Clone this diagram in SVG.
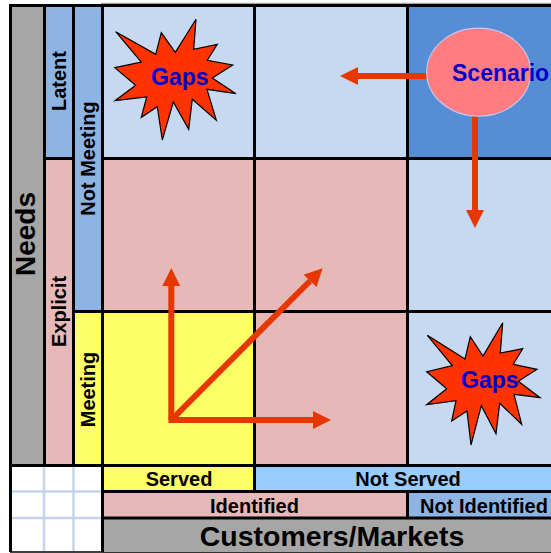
<svg xmlns="http://www.w3.org/2000/svg" width="551" height="553" viewBox="0 0 551 553">
<style>
text{font-family:"Liberation Sans",Arial,sans-serif;font-weight:bold;fill:#000;text-anchor:middle}
.lb{fill:#c6d9f0}.pk{fill:#e6b9b8}.ye{fill:#ffff66}.mb{fill:#8eb4e3}.db{fill:#558ed5}.gy{fill:#a6a6a6}.sb{fill:#99ccff}
.grid{stroke:#000;stroke-width:3;fill:none}
.faint{stroke:#c6d5ea;stroke-width:2.5;fill:none}
.arrow{stroke:#e63700;stroke-width:6;fill:none;marker-end:url(#head)}
.star{fill:#ff3300;stroke:#000;stroke-width:1.2}
.blue{fill:#0000cc;font-size:23px}
.s20{font-size:20px}
</style>
<defs>
<marker id="head" markerUnits="userSpaceOnUse" markerWidth="18" markerHeight="18" refX="0" refY="9" orient="auto" viewBox="0 0 18 18"><path d="M0 0L18 9L0 18Z" fill="#e63700"/></marker>
</defs>
<rect width="551" height="553" fill="#fff"/>
<g id="fills">
<rect class="gy" x="10" y="5" width="34" height="460"/>
<rect class="mb" x="44" y="5" width="29" height="153"/>
<rect class="pk" x="44" y="158" width="29" height="307"/>
<rect class="mb" x="73" y="5" width="29" height="306"/>
<rect class="ye" x="73" y="311" width="29" height="154"/>
<rect class="lb" x="102" y="5" width="153" height="153"/>
<rect class="lb" x="255" y="5" width="152" height="153"/>
<rect class="db" x="407" y="5" width="144" height="153"/>
<rect class="pk" x="102" y="158" width="305" height="153"/>
<rect class="lb" x="407" y="158" width="144" height="153"/>
<rect class="ye" x="102" y="311" width="153" height="154"/>
<rect class="pk" x="255" y="311" width="152" height="154"/>
<rect class="lb" x="407" y="311" width="144" height="154"/>
<rect class="ye" x="102" y="465" width="153" height="26"/>
<rect class="sb" x="255" y="465" width="296" height="26"/>
<rect class="pk" x="102" y="491" width="305" height="27"/>
<rect class="mb" x="407" y="491" width="144" height="27"/>
<rect class="gy" x="102" y="518" width="449" height="34"/>
</g>
<g id="gridlines">
<path d="M101 3.500H551" stroke="#a6a6a6" stroke-width="1.500" fill="none"/>
<path class="faint" d="M44 466V551M73.500 466V551M11 491.500H102M11 518H102"/>
<path class="grid" d="M10.500 5.500H551M10.500 4V552M44.500 5V465M73.500 5V465M102.500 4V552M254.500 5V491M407.500 5V465M44 158.500H73M102 158.500H551M73 311.500H551M10 465.500H551M102 491.500H551M407.500 491V518M102 518H551"/>
<path d="M10 552H102" stroke="#000" stroke-width="1.500" fill="none"/>
<path d="M102 552.500H551" stroke="#333" stroke-width="1" fill="none"/>
</g>
<g id="connectors">
<path class="arrow" d="M427 76H358"/>
<path class="arrow" d="M475 116V210"/>
<path class="arrow" d="M171.300 420V286"/>
<path class="arrow" d="M171.300 420L310 281"/>
<path class="arrow" d="M168.500 420H313"/>
</g>
<g id="gaps-top">
<polygon class="star" points="115.700,31.700 155.700,54.300 161.300,32.700 175.300,52.300 196,19.300 193.700,49.300 217.300,44.300 207.300,60.300 232.700,65 212.300,78 236,93.700 207,89.300 216.300,120.300 192.300,99.300 188.700,129.300 173.300,102 162.300,140 157.300,106.700 141.300,117.300 146.700,97 115,100.700 135.700,85.300 114.700,67.700 141.300,62"/>
<text class="blue" x="179.800" y="85">Gaps</text>
</g>
<g id="gaps-bottom">
<polygon class="star" points="427.300,335.300 465,359 470.300,336.700 483,356 502.700,322.700 500.300,353 522.700,348.700 513.300,364.300 537,369.300 518.300,381.300 540,397.700 514,394.300 521.700,424.300 499.700,403.300 496,433.700 481.300,405.700 471,445 467,411 451.700,421 456,400.700 426.700,404.700 446.700,388.700 426.700,371.700 452.300,365.700"/>
<text class="blue" x="489.800" y="388">Gaps</text>
</g>
<g id="scenario">
<ellipse cx="478.700" cy="72.200" rx="52" ry="44" fill="#ff7c80" stroke="#c6c6f0" stroke-width="1.200"/>
<text class="blue" x="452" y="80.500" style="text-anchor:start">Scenario</text>
</g>
<g id="axis-labels">
<text transform="translate(34.500 234) rotate(-90)" font-size="28">Needs</text>
<text class="s20" transform="translate(66 81) rotate(-90)">Latent</text>
<text class="s20" transform="translate(66 311.500) rotate(-90)">Explicit</text>
<text class="s20" transform="translate(95 158.500) rotate(-90)">Not Meeting</text>
<text class="s20" transform="translate(95 389.500) rotate(-90)">Meeting</text>
<text class="s20" x="179" y="486">Served</text>
<text class="s20" x="408" y="486">Not Served</text>
<text class="s20" x="254.500" y="513">Identified</text>
<text class="s20" x="484" y="513">Not Identified</text>
<text x="332" y="546" font-size="28.500">Customers/Markets</text>
</g>
</svg>
